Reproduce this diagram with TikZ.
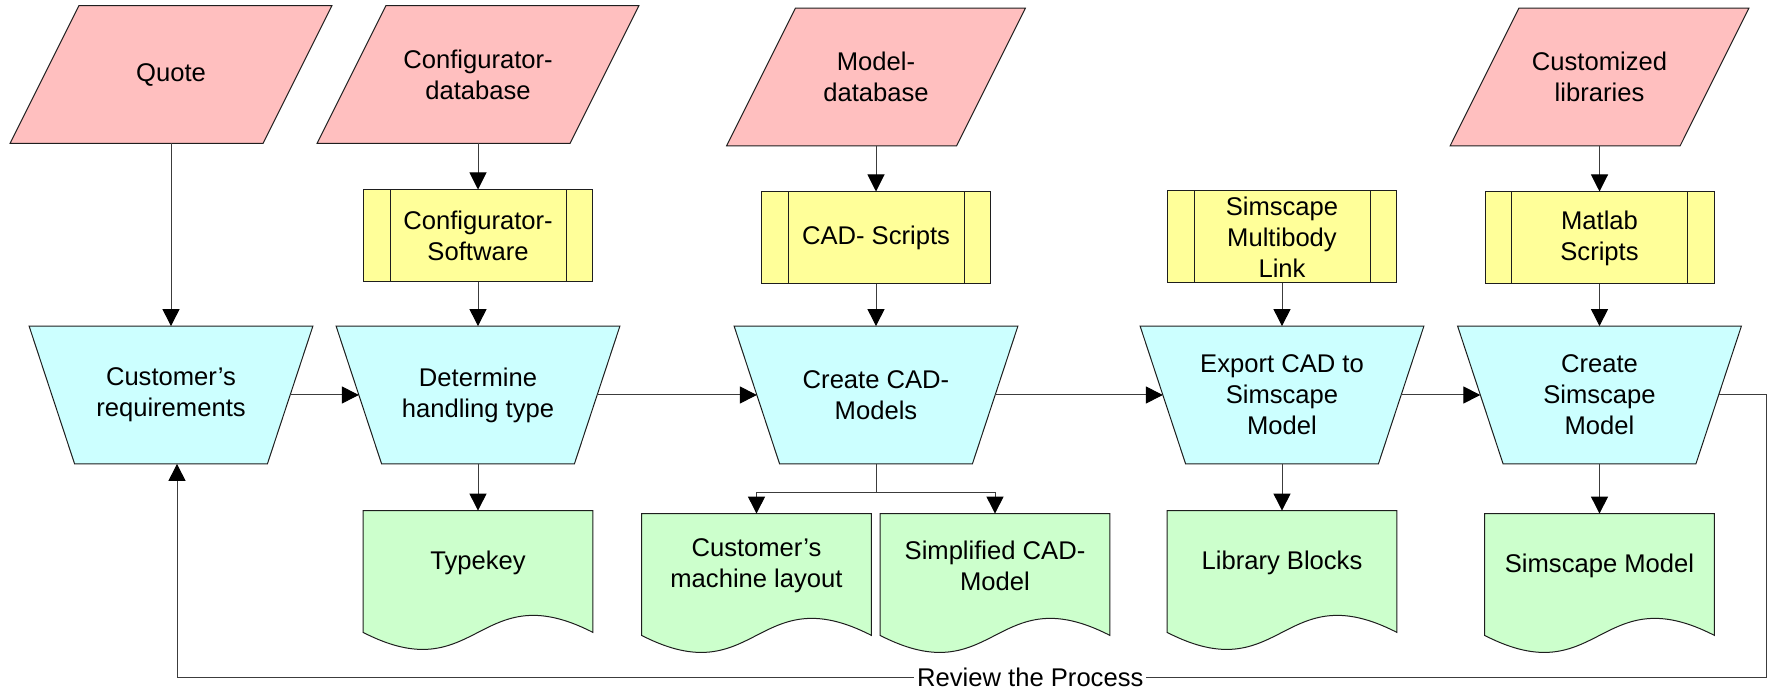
\documentclass[tikz,border=0pt]{standalone}
\usepackage{fontspec}
\setmainfont{Liberation Sans}
\usetikzlibrary{arrows.meta}
\pgfdeclarelayer{background}
\pgfsetlayers{background,main}
\definecolor{cPink}{RGB}{255,191,191}
\definecolor{cYel}{RGB}{255,255,153}
\definecolor{cCyan}{RGB}{204,255,255}
\definecolor{cGreen}{RGB}{204,255,204}
\definecolor{cEdge}{RGB}{30,30,30}
\definecolor{cConn}{RGB}{60,60,60}
\begin{document}
\begin{tikzpicture}[x=0.5pt,y=-0.5pt,
  txt/.style={inner sep=0pt, align=center, font=\fontsize{12.8}{15.5}\selectfont},
  paraW/.style={txt, minimum width=160.5pt, minimum height=68.5pt},
  paraN/.style={txt, minimum width=149pt, minimum height=68.5pt},
  trap/.style={txt, minimum width=118.75pt, minimum height=68.5pt},
  ybox/.style={txt, draw=cEdge, fill=cYel, line width=0.5pt, minimum width=114.5pt, minimum height=46pt},
  doc/.style={txt, minimum width=114.5pt, minimum height=51.5pt},
  shapeline/.style={draw=cEdge, line width=0.5pt},
  arr/.style={draw=cConn, line width=0.5pt, -{Triangle[length=8.5pt,width=8.5pt,color=black]}},
  conn/.style={draw=cConn, line width=0.5pt},
  revlabel/.style={txt, fill=white, inner xsep=1.5pt}
]
\useasboundingbox (0,0) rectangle (1768,689);

% data inputs
\node[paraW] (quote) at (171,74.5) {Quote};
\node[paraW] (cdb) at (478,74.5) {Configurator-\\database};
\node[paraN] (mdb) at (876,77) {Model-\\database};
\node[paraN] (clib) at (1599.5,77) {Customized\\libraries};

% predefined processes
\node[ybox] (csw) at (478,236) {Configurator-\\Software};
\node[ybox] (cads) at (876,238) {CAD- Scripts};
\node[ybox] (sml) at (1282,237) {Simscape\\Multibody\\Link};
\node[ybox] (mls) at (1599.5,238) {Matlab\\Scripts};
\foreach \n in {csw,cads,sml,mls}{
  \draw[shapeline] ([xshift=13.5pt]\n.north west) -- ([xshift=13.5pt]\n.south west);
  \draw[shapeline] ([xshift=-13.5pt]\n.north east) -- ([xshift=-13.5pt]\n.south east);
}

% manual operations
\node[trap] (cust) at (171,395) {Customer’s\\requirements};
\node[trap] (det) at (478,395) {Determine\\handling type};
\node[trap] (cad) at (876,395) {Create CAD-\\Models};
\node[trap] (exp) at (1282,395) {Export CAD to\\Simscape\\Model};
\node[trap] (csm) at (1599.5,395) {Create\\Simscape\\Model};

% documents
\node[doc] (tk) at (478,562.5) {Typekey};
\node[doc] (cml) at (756.5,565.5) {Customer’s\\machine layout};
\node[doc] (scad) at (995,565.5) {Simplified CAD-\\Model};
\node[doc] (lib) at (1282,562.5) {Library Blocks};
\node[doc] (simm) at (1599.5,565.5) {Simscape Model};

\begin{pgfonlayer}{background}
  \foreach \n in {quote,cdb}{
    \filldraw[shapeline, fill=cPink] (\n.south west) -- ([xshift=126.5pt]\n.south west) -- (\n.north east) -- ([xshift=-126.5pt]\n.north east) -- cycle;
  }
  \foreach \n in {mdb,clib}{
    \filldraw[shapeline, fill=cPink] (\n.south west) -- ([xshift=115pt]\n.south west) -- (\n.north east) -- ([xshift=-115pt]\n.north east) -- cycle;
  }
  \foreach \n in {cust,det,cad,exp,csm}{
    \filldraw[shapeline, fill=cCyan] ([xshift=-11.375pt]\n.north west) -- ([xshift=11.375pt]\n.north east) -- ([xshift=-11.375pt]\n.south east) -- ([xshift=11.375pt]\n.south west) -- cycle;
  }
  \foreach \n in {tk,cml,scad,lib,simm}{
    \filldraw[shapeline, fill=cGreen] (\n.north west) -- (\n.north east) -- ([yshift=-9pt]\n.south east) .. controls ([yshift=20.5pt]\n.south) and ([yshift=-38.5pt]\n.south) .. ([yshift=-9pt]\n.south west) -- cycle;
  }
\end{pgfonlayer}

% connectors
\draw[arr] (quote.south) -- (cust.north);
\draw[arr] (cdb.south) -- (csw.north);
\draw[arr] (csw.south) -- (det.north);
\draw[arr] (cust.east) -- (det.west);
\draw[arr] (det.east) -- (cad.west);
\draw[arr] (cad.east) -- (exp.west);
\draw[arr] (exp.east) -- (csm.west);
\draw[arr] (det.south) -- (tk.north);
\draw[arr] (mdb.south) -- (cads.north);
\draw[arr] (cads.south) -- (cad.north);
\coordinate (split) at (876,493);
\draw[conn] (cad.south) -- (split);
\draw[arr] (split) -| (cml.north);
\draw[arr] (split) -| (scad.north);
\draw[arr] (sml.south) -- (exp.north);
\draw[arr] (exp.south) -- (lib.north);
\draw[arr] (clib.south) -- (mls.north);
\draw[arr] (mls.south) -- (csm.north);
\draw[arr] (csm.south) -- (simm.north);

% feedback loop
\coordinate (fbA) at (1766,395);
\coordinate (fbB) at (1766,677);
\coordinate (fbC) at (177,677);
\draw[arr] (csm.east) -- (fbA) -- (fbB) -- node[revlabel, pos=0.463] (rev) {Review the Process} (fbC) -- (fbC |- cust.south);
\end{tikzpicture}
\end{document}
